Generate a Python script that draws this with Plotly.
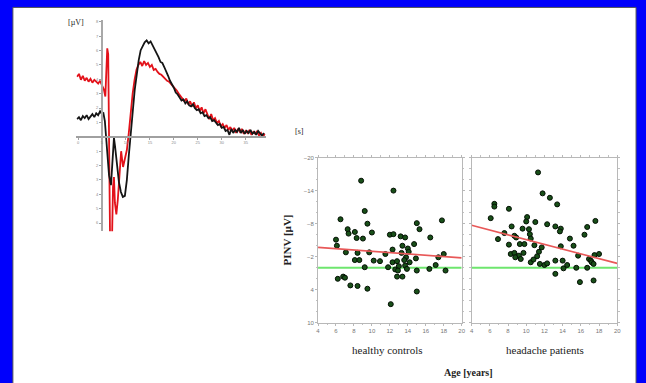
import plotly.graph_objects as go

# ---------------- ERP waveform data (time in ms, amplitude in µV) ----------------
black_t = [-520, -480, -440, -400, -360, -320, -280, -240, -200, -160, -120, -80, -40, 0,
           30, 60, 105, 147, 188, 209, 230, 250, 271, 312, 354, 395, 436, 478, 519, 560,
           602, 643, 684, 726, 767, 808, 850, 891, 932, 974, 1015, 1057, 1098, 1139, 1181, 1222,
           1260, 1300, 1340, 1380, 1420, 1460, 1500, 1540, 1580, 1620, 1660, 1700, 1740, 1780,
           1820, 1860, 1900, 1940, 1980, 2020, 2060, 2100, 2140, 2180, 2220, 2260, 2300, 2340,
           2380, 2420, 2460, 2500, 2540, 2580, 2620, 2660, 2700, 2740, 2780, 2820, 2860, 2900,
           2940, 2980, 3020, 3060, 3100, 3140, 3180, 3220, 3260, 3300, 3340, 3380]
black_v = [1.23, 1.37, 1.16, 1.44, 1.30, 1.51, 1.23, 1.44, 1.58, 1.37, 1.64, 1.51, 1.78, 1.58,
           1.64, 1.10, -0.96, -2.67, -3.36, -2.33, -0.96, -0.07, -0.62, -1.99, -3.15, -3.84, -4.18, -4.11, -3.01, -1.30,
           0.07, 1.78, 3.29, 4.52, 5.34, 6.03, 6.37, 6.58, 6.71, 6.51, 6.64, 6.37, 6.10, 5.89, 5.55, 5.21,
           5.14, 4.86, 4.59, 4.25, 3.90, 3.70, 3.42, 3.08, 2.95, 2.74, 2.53, 2.60, 2.33, 2.47,
           2.19, 2.12, 2.26, 1.99, 1.85, 1.92, 1.64, 1.71, 1.44, 1.51, 1.30, 1.37, 1.10, 1.16,
           0.96, 0.82, 0.89, 0.62, 0.68, 0.41, 0.48, 0.14, 0.55, 0.27, 0.48, 0.34, 0.62, 0.27,
           0.48, 0.21, 0.41, 0.27, 0.48, 0.21, 0.34, 0.14, 0.41, 0.21, 0.07, 0.27]

red_t = [-520, -480, -440, -400, -360, -320, -280, -240, -200, -160, -120, -80, -40, 0,
         40, 70, 90, 110, 130, 150, 170, 190, 210, 230, 250, 270, 300, 330, 370, 400, 440, 480, 520,
         560, 600, 640, 680, 720, 760, 800,
         840, 880, 920, 960, 1000, 1040, 1080, 1120, 1160, 1200,
         1240, 1280, 1320, 1360, 1400, 1440, 1480, 1520, 1560, 1600,
         1640, 1680, 1720, 1760, 1800, 1840, 1880, 1920, 1960, 2000,
         2040, 2080, 2120, 2160, 2200, 2240, 2280, 2320, 2360, 2400,
         2440, 2480, 2520, 2560, 2600, 2640, 2680, 2720, 2760, 2800,
         2840, 2880, 2920, 2960, 3000, 3040, 3080, 3120, 3160, 3200,
         3240, 3280, 3320, 3360, 3400]
red_v = [4.18, 4.38, 3.97, 4.25, 3.90, 4.11, 3.84, 4.04, 3.77, 3.97, 3.84, 3.70, 3.90, 3.63,
         3.29, 2.81, 4.52, 6.16, 5.75, -1.50, -7.50, -8.20, -7.00, -3.50, -2.80, -4.60, -5.40, -4.40, -2.00, -1.00, -2.10, -1.60, -0.90,
         0.27, 1.78, 3.01, 3.97, 4.66, 5.00, 5.21,
         4.93, 5.27, 5.00, 5.14, 4.86, 5.00, 4.66, 4.73, 4.52, 4.38,
         4.32, 4.18, 4.04, 3.90, 3.84, 3.70, 3.56, 3.42, 3.22, 3.01,
         2.81, 2.67, 2.47, 2.67, 2.26, 2.47, 2.12, 2.40, 1.99, 2.19,
         1.78, 2.05, 1.64, 1.92, 1.51, 1.23, 1.58, 1.16, 1.30, 0.96,
         1.10, 0.75, 0.89, 0.62, 0.82, 0.48, 0.68, 0.41, 0.62, 0.27,
         0.55, 0.34, 0.55, 0.21, 0.41, 0.27, 0.48, 0.14, 0.34, 0.21,
         0.41, 0.07, 0.27, 0.00, 0.21]

erp_x_tickvals = [-500, 0, 500, 1000, 1500, 2000, 2500, 3000]
erp_x_ticklabels = ["0", "5", "10", "15", "20", "25", "30", "35"]
erp_y_tickvals = [-6, -5, -4, -3, -2, -1, 1, 2, 3, 4, 5, 6, 7, 8]
erp_y_ticklabels = ["6", "5", "4", "3", "2", "1", "1", "2", "3", "4", "5", "6", "7", "8"]

# ---------------- scatter data ----------------
healthy_age = [8.8, 12.4, 9.2, 6.5, 9.5, 15.0, 17.8, 15.3, 7.3, 8.1, 7.4, 10.0, 12.0, 12.4, 13.2,
               13.7, 16.5, 8.3, 9.0, 6.0, 6.1, 14.7, 13.4, 14.0, 14.1, 7.1, 8.4, 12.3, 9.7, 13.3,
               13.8, 14.9, 11.5, 17.4, 18.0, 8.1, 8.6, 10.2, 10.9, 13.6, 14.2, 9.2, 11.8, 12.3, 12.8,
               13.0, 13.7, 12.6, 12.9, 13.9, 15.0, 17.1, 18.2, 16.4, 12.8, 13.4, 6.2, 6.8, 7.0, 7.6,
               8.4, 9.5, 15.0, 12.1]
healthy_pinv = [-15.8, -14.0, -10.3, -8.8, -8.0, -8.1, -8.6, -7.0, -7.0, -6.5, -6.2, -6.4, -6.0, -6.1, -5.7,
                -5.5, -5.5, -5.4, -5.3, -5.1, -4.0, -4.3, -4.0, -3.5, -2.9, -2.8, -2.7, -3.3, -2.8, -2.7,
                -1.9, -1.7, -2.5, -1.9, -2.5, -1.4, -1.4, -1.3, -1.2, -1.4, -1.0, -0.1, -0.1, -1.0, -1.2,
                -0.3, -0.4, 0.3, 0.5, 0.2, 0.5, -0.5, 0.5, 0.2, 1.6, 1.6, 2.0, 1.6, 1.8, 3.2,
                3.3, 3.8, 4.3, 6.6]

headache_age = [11.3, 11.8, 12.6, 13.4, 6.5, 6.5, 8.1, 6.1, 10.1, 10.0, 11.0, 12.3, 13.2, 13.8, 13.7,
                17.6, 16.7, 9.6, 10.3, 8.4, 10.4, 8.7, 16.4, 14.8, 6.9, 7.6, 8.1, 8.9, 9.3, 9.8,
                10.5, 10.9, 11.7, 11.4, 15.2, 13.8, 15.7, 16.9, 18.0, 17.5, 17.1, 8.3, 8.7, 9.2, 9.7,
                8.8, 9.4, 10.5, 10.8, 11.5, 12.0, 12.3, 13.2, 14.0, 14.1, 14.5, 15.5, 16.7, 17.2, 17.4,
                13.2, 15.9, 17.4, 11.2]
headache_pinv = [-17.3, -13.5, -12.7, -11.5, -11.6, -11.1, -10.7, -9.0, -9.2, -8.4, -8.3, -7.9, -7.5, -7.1, -6.6,
                 -8.5, -7.4, -7.1, -7.0, -7.5, -6.1, -5.8, -6.0, -5.3, -5.2, -6.3, -4.2, -5.5, -4.3, -4.3,
                 -5.3, -4.1, -3.7, -2.9, -4.0, -3.9, -2.2, -1.6, -2.5, -2.3, -1.3, -2.5, -2.7, -2.2, -2.7,
                 -1.9, -1.6, -1.0, -1.5, -0.7, -0.5, -0.8, -1.3, -1.3, 0.1, -0.5, 0.0, 0.0, -1.0, -0.7,
                 1.1, 2.6, 2.3, -2.1]

fit_age = [4, 20]
healthy_fit = [-3.7, -1.8]
headache_fit = [-7.7, -0.8]
zero_ref = [0, 0]

scatter_y_ticks = [-20, -14, -8, -2, 4, 10]
scatter_x_ticks = [4, 6, 8, 10, 12, 14, 16, 18, 20]

W, H = 646, 383
def px(x):
    return x / W
def py(y):
    return 1 - y / H

fig = go.Figure()

# ERP traces
fig.add_trace(go.Scatter(x=red_t, y=red_v, mode="lines", line=dict(color="#e3121a", width=1.8),
                         xaxis="x", yaxis="y", showlegend=False, hoverinfo="skip"))
fig.add_trace(go.Scatter(x=black_t, y=black_v, mode="lines", line=dict(color="#151515", width=1.8),
                         xaxis="x", yaxis="y", showlegend=False, hoverinfo="skip"))

marker = dict(size=5, color="#184f18", line=dict(color="#041004", width=1))
for xa, ya, ages, vals, fit in [("x2", "y2", healthy_age, healthy_pinv, healthy_fit),
                                ("x3", "y3", headache_age, headache_pinv, headache_fit)]:
    fig.add_trace(go.Scatter(x=fit_age, y=zero_ref, mode="lines", line=dict(color="#6ee66e", width=2),
                             xaxis=xa, yaxis=ya, showlegend=False, hoverinfo="skip"))
    fig.add_trace(go.Scatter(x=ages, y=vals, mode="markers", marker=marker,
                             xaxis=xa, yaxis=ya, showlegend=False))
    fig.add_trace(go.Scatter(x=fit_age, y=fit, mode="lines", line=dict(color="#e85858", width=1.6),
                             xaxis=xa, yaxis=ya, showlegend=False, hoverinfo="skip"))

tickfont_small = dict(family="Liberation Sans", size=4, color="#8a8a8a")
tickfont_sc = dict(family="Liberation Sans", size=6, color="#777")

frame_x = dict(range=[4, 20], tickvals=scatter_x_ticks, showgrid=False, zeroline=False,
               showline=True, linecolor="#b8b8b8", linewidth=1, mirror="allticks",
               ticks="outside", ticklen=2, tickcolor="#b8b8b8", tickfont=tickfont_sc,
               minor=dict(ticks="outside", ticklen=1.5, dtick=1, tickcolor="#c0c0c0"))
frame_y = dict(range=[10, -20], tickvals=scatter_y_ticks, showgrid=False, zeroline=False,
               showline=True, linecolor="#b8b8b8", linewidth=1, mirror="allticks",
               ticks="outside", ticklen=2, tickcolor="#b8b8b8", tickfont=tickfont_sc,
               minor=dict(ticks="outside", ticklen=1.5, dtick=2, tickcolor="#c0c0c0"))

fig.update_layout(
    width=W, height=H,
    margin=dict(l=0, r=0, t=0, b=0),
    paper_bgcolor="#0000fc",
    plot_bgcolor="rgba(0,0,0,0)",
    xaxis=dict(domain=[px(75), px(266)], range=[-536, 3414], anchor="free", position=py(136),
               showline=True, linecolor="#a0a0a0", linewidth=1.5, showgrid=False, zeroline=False,
               ticks="outside", ticklen=2, tickcolor="#a0a0a0",
               tickvals=erp_x_tickvals, ticktext=erp_x_ticklabels, tickfont=tickfont_small),
    yaxis=dict(domain=[py(232), py(17)], range=[-6.58, 8.15], anchor="free", position=px(100.9),
               showline=True, linecolor="#a8a8a8", linewidth=2, showgrid=False, zeroline=False,
               ticks="outside", ticklen=2, tickcolor="#a0a0a0",
               tickvals=erp_y_tickvals, ticktext=erp_y_ticklabels, tickfont=tickfont_small),
    xaxis2=dict(domain=[px(319), px(464)], anchor="y2", **frame_x),
    yaxis2=dict(domain=[py(325), py(157)], anchor="x2", **frame_y),
    xaxis3=dict(domain=[px(474), px(621)], anchor="y3", **frame_x),
    yaxis3=dict(domain=[py(325), py(157)], anchor="x3", showticklabels=False, **frame_y),
    shapes=[dict(type="rect", xref="paper", yref="paper", x0=px(11), x1=px(640), y0=-0.01, y1=py(4.5),
                 fillcolor="white", line=dict(color="#555", width=1), layer="below")],
)

serif = "Liberation Serif"
ann = [
    dict(text="[µV]", x=px(75), y=py(20), size=8, bold=False, angle=0),
    dict(text="[s]", x=px(300), y=py(131), size=8, bold=False, angle=0),
    dict(text="PINV [µV]", x=px(288), y=py(241), size=11, bold=True, angle=-90),
    dict(text="healthy controls", x=px(389), y=py(353), size=11, bold=False, angle=0),
    dict(text="headache patients", x=px(548), y=py(353), size=11, bold=False, angle=0),
    dict(text="Age [years]", x=px(471), y=py(375), size=10, bold=True, angle=0),
]
for a in ann:
    t = "<b>" + a["text"] + "</b>" if a["bold"] else a["text"]
    fig.add_annotation(text=t, x=a["x"], y=a["y"], xref="paper", yref="paper", showarrow=False,
                       xanchor="center", yanchor="middle", textangle=a["angle"],
                       font=dict(family=serif, size=a["size"], color="#222"))

fig.write_html("out.html",
               config={"displayModeBar": False},
               post_script="document.body.style.margin='0';document.body.style.padding='0';"
                           "document.body.style.overflow='hidden';"
                           "document.documentElement.style.overflow='hidden';")
